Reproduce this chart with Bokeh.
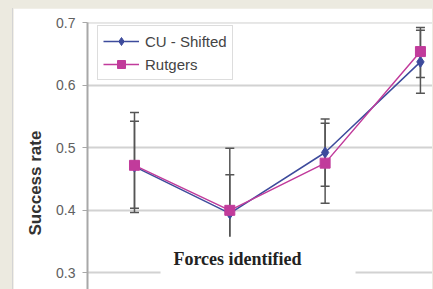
from bokeh.plotting import figure
from bokeh.models import (ColumnDataSource, Whisker, TeeHead, Label, Legend, LegendItem,
                          FixedTicker, Range1d, Title)
from bokeh.embed import file_html
from bokeh.resources import INLINE

# ---- data ----
categories = [1, 2, 3, 4]
cu_shifted = [0.470, 0.395, 0.4925, 0.6375]
cu_lower = [0.3965, 0.333, 0.4385, 0.5875]
cu_upper = [0.5425, 0.457, 0.546, 0.688]
rutgers = [0.472, 0.400, 0.4755, 0.654]
rut_lower = [0.4035, 0.300, 0.4115, 0.6125]
rut_upper = [0.5565, 0.4995, 0.5395, 0.6925]
y_ticks = [0.3, 0.4, 0.5, 0.6, 0.7]

BLUE = "#3D4B9C"
MAGENTA = "#C13B9B"

p = figure(width=420, height=281, output_backend="svg", toolbar_location=None,
           x_range=Range1d(0.507, 4.137), y_range=Range1d(0.2733, 0.7005),
           min_border_left=74, min_border_right=0, min_border_top=14, min_border_bottom=0)
p.styles = {"margin-left": "4px", "border-left": "1px solid #d4d4d4"}
p.background_fill_color = "white"
p.border_fill_color = "white"
p.outline_line_color = None

p.xaxis.visible = False
p.xgrid.visible = False
p.ygrid.ticker = FixedTicker(ticks=y_ticks)
p.ygrid.grid_line_color = "#d2d2d2"
p.ygrid.grid_line_width = 2

ax = p.yaxis[0]
ax.ticker = FixedTicker(ticks=y_ticks)
ax.axis_line_color = "#a8a8a8"
ax.axis_line_width = 2
ax.major_tick_line_color = "#a8a8a8"
ax.major_tick_out = 5
ax.major_tick_in = 0
ax.minor_tick_line_color = None
ax.major_label_text_font = "Liberation Sans"
ax.major_label_text_font_size = "14px"
ax.major_label_text_color = "#606060"
ax.major_label_standoff = 7

# error bars
src_cu = ColumnDataSource(dict(x=categories, y=cu_shifted, lo=cu_lower, hi=cu_upper))
src_rt = ColumnDataSource(dict(x=categories, y=rutgers, lo=rut_lower, hi=rut_upper))
for src in (src_cu, src_rt):
    w = Whisker(source=src, base="x", lower="lo", upper="hi",
                line_color="#555555", line_width=1.5,
                upper_head=TeeHead(size=9, line_color="#555555", line_width=1.5),
                lower_head=TeeHead(size=9, line_color="#555555", line_width=1.5))
    p.add_layout(w)

# white box behind the x title
p.quad(left=1.273, right=3.319, bottom=0.26, top=0.3576, fill_color="white", line_color=None)

l1 = p.line("x", "y", source=src_cu, line_color=BLUE, line_width=1.5)
m1 = p.scatter("x", "y", source=src_cu, marker="diamond", size=11, fill_color=BLUE, line_color=BLUE)
l2 = p.line("x", "y", source=src_rt, line_color=MAGENTA, line_width=1.5)
m2 = p.scatter("x", "y", source=src_rt, marker="square", size=10, fill_color=MAGENTA, line_color=MAGENTA)

legend = Legend(items=[LegendItem(label="CU - Shifted", renderers=[l1, m1]),
                       LegendItem(label="Rutgers", renderers=[l2, m2])],
                location=(10, 209))
legend.label_text_font = "Liberation Sans"
legend.label_text_font_size = "15px"
legend.label_text_color = "#444444"
legend.glyph_width = 36
legend.glyph_height = 20
legend.spacing = 3
legend.padding = 5
legend.label_standoff = 6
legend.border_line_color = "#bbbbbb"
legend.border_line_width = 1.5
legend.background_fill_color = "white"
legend.background_fill_alpha = 1
p.add_layout(legend)

p.add_layout(Label(x=2.081, y=0.3224, text="Forces identified", text_align="center",
                   text_baseline="middle", text_font="Liberation Serif", text_font_style="bold",
                   text_font_size="18px", text_color="#222222"))

ylab = Title(text="Success rate", align="left", offset=54, standoff=18,
             text_font="Liberation Sans", text_font_style="bold",
             text_font_size="17px", text_color="#333333")
p.add_layout(ylab, "left")

html = file_html(p, INLINE)
html = html.replace("</head>",
                    "<style>html,body{background:#ECEAE0;margin:0;} body{padding:8px 0 0 8px;overflow:hidden;}</style></head>")
open("out.html", "w").write(html)
